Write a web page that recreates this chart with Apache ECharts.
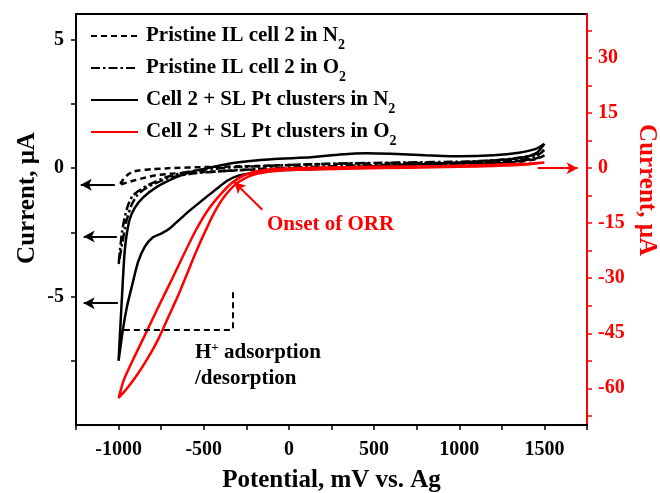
<!DOCTYPE html>
<html>
<head>
<meta charset="utf-8">
<script src="https://cdn.jsdelivr.net/npm/echarts@6.0.0/dist/echarts.min.js"></script>
<style>
html, body { margin: 0; padding: 0; background: #fff; }
#chart { width: 660px; height: 493px; }
</style>
</head>
<body>
<div id="chart"></div>
<script>
// axis ticks and labels
var potentialTicks = [-1250, -1000, -750, -500, -250, 0, 250, 500, 750, 1000, 1250, 1500, 1750];
var potentialLabels = [-1000, -500, 0, 500, 1000, 1500];
var leftTicks = [-7.5, -5, -2.5, 0, 2.5, 5];
var leftLabels = [-5, 0, 5];
var rightTicks = [-67.5, -60, -52.5, -45, -37.5, -30, -22.5, -15, -7.5, 0, 7.5, 15, 22.5, 30, 37.5];
var rightLabels = [-60, -45, -30, -15, 0, 15, 30];

var seriesNames = [
    'Pristine IL cell 2 in N2',
    'Pristine IL cell 2 in O2',
    'Cell 2 + SL Pt clusters in N2',
    'Cell 2 + SL Pt clusters in O2'
];

// [potential mV, current uA] - CV loops, left axis
var pristineN2 = [
    [1500, 0.5], [1450, 0.35], [1350, 0.25], [1200, 0.18], [1000, 0.14], [700, 0.1], [400, 0.05],
    [100, 0.0], [-200, -0.05], [-400, -0.12], [-600, -0.18], [-700, -0.22], [-780, -0.28],
    [-850, -0.38], [-920, -0.5], [-970, -0.6], [-1000, -0.65],
    [-990, -0.6], [-970, -0.42], [-945, -0.25], [-920, -0.15], [-880, -0.09], [-800, -0.04],
    [-700, 0.0], [-500, 0.04], [-200, 0.08], [100, 0.14], [400, 0.18], [700, 0.2], [1000, 0.2],
    [1200, 0.22], [1350, 0.28], [1450, 0.38], [1500, 0.5]
];
var pristineO2 = [
    [1500, 0.7], [1450, 0.45], [1350, 0.3], [1200, 0.22], [1000, 0.18], [700, 0.14], [400, 0.1],
    [100, 0.04], [-200, -0.04], [-400, -0.12], [-550, -0.2], [-650, -0.3], [-720, -0.42],
    [-780, -0.58], [-840, -0.78], [-890, -1.05], [-925, -1.45], [-955, -2.1], [-978, -2.9],
    [-1000, -3.75],
    [-992, -3.2], [-980, -2.5], [-965, -1.95], [-945, -1.45], [-920, -1.1], [-886, -0.9],
    [-833, -0.68], [-775, -0.5], [-716, -0.34], [-622, -0.18], [-500, -0.06], [-300, 0.04],
    [0, 0.12], [300, 0.18], [700, 0.22], [1000, 0.25], [1200, 0.3], [1350, 0.4], [1450, 0.55],
    [1500, 0.7]
];
var cellN2 = [
    [1500, 0.95], [1460, 0.62], [1400, 0.45], [1300, 0.35], [1150, 0.28], [1000, 0.22], [700, 0.12],
    [400, 0.04], [100, -0.05], [-100, -0.1], [-220, -0.2], [-300, -0.3], [-360, -0.48],
    [-420, -0.78], [-480, -1.1], [-540, -1.42], [-600, -1.75], [-650, -2.05], [-700, -2.35],
    [-750, -2.55], [-800, -2.7], [-845, -3.05], [-886, -3.66], [-922, -4.6], [-951, -5.4],
    [-975, -6.3], [-1000, -7.5],
    [-993, -6.6], [-985, -5.6], [-976, -4.5], [-966, -3.4], [-955, -2.7], [-935, -2.0],
    [-905, -1.55], [-857, -1.15], [-775, -0.73], [-657, -0.34], [-560, -0.12], [-463, 0.02],
    [-330, 0.2], [-100, 0.35], [130, 0.42], [300, 0.53], [450, 0.58], [600, 0.56], [800, 0.5],
    [1000, 0.46], [1200, 0.5], [1350, 0.6], [1450, 0.75], [1500, 0.95]
];
// right axis
var cellO2 = [
    [1500, 1.5], [1400, 1.0], [1200, 0.6], [1000, 0.35], [700, 0.1], [400, -0.1], [8, -0.5],
    [-122, -1.0], [-228, -2.1], [-310, -4.3], [-381, -7.9], [-439, -12.2], [-492, -17.3],
    [-545, -22.8], [-598, -28.8], [-651, -34.8], [-710, -40.8], [-769, -46.8], [-834, -52.2],
    [-898, -56.8], [-957, -60.4], [-1000, -62.6],
    [-969, -57.7], [-910, -51.7], [-839, -44.9], [-763, -37.5], [-686, -30.2], [-616, -23.4],
    [-545, -16.8], [-475, -11.4], [-404, -7.3], [-334, -4.0], [-257, -1.8], [-169, -0.7],
    [-51, -0.2], [200, 0.15], [500, 0.35], [900, 0.6], [1200, 0.9], [1400, 1.2], [1500, 1.5]
];

// annotation arrows, in left-axis units
var leftArrows = [
    [[-1022, -0.65], [-1222, -0.65]],
    [[-1010, -2.66], [-1205, -2.66]],
    [[-1004, -5.26], [-1205, -5.26]]
];
var orrArrow = [[-156, -1.62], [-320, -0.55]];
var rightArrow = [[1460, 0], [1695, 0]];
var hBracket = [
    [[-969, -6.29], [-328, -6.29]],
    [[-328, -4.83], [-328, -6.29]]
];

var serif = 'Liberation Serif';
var chart = echarts.init(document.getElementById('chart'));

function lineSeries(name, data, color, type, axis) {
    return {
        name: name,
        type: 'line',
        data: data,
        yAxisIndex: axis,
        symbol: 'none',
        smooth: 0.2,
        lineStyle: { color: color, width: 2.5, type: type },
        itemStyle: { color: color },
        emphasis: { disabled: true }
    };
}

function arrowLine(seg, color, arrow, dash) {
    return [
        { coord: seg[0], symbol: 'none' },
        {
            coord: seg[1],
            symbol: arrow ? 'arrow' : 'none',
            symbolSize: [9, 11],
            lineStyle: { color: color, width: 2, type: dash || 'solid' }
        }
    ];
}

var marks = [];
leftArrows.forEach(function (s) { marks.push(arrowLine(s, '#000', true)); });
marks.push(arrowLine(orrArrow, '#ff0000', true));
marks.push(arrowLine(rightArrow, '#ff0000', true));
hBracket.forEach(function (s) { marks.push(arrowLine(s, '#000', false, [6, 4])); });

var series = [
    lineSeries(seriesNames[0], pristineN2, '#000', [6, 4], 0),
    lineSeries(seriesNames[1], pristineO2, '#000', [9, 3, 2.5, 3], 0),
    lineSeries(seriesNames[2], cellN2, '#000', 'solid', 0),
    lineSeries(seriesNames[3], cellO2, '#ff0000', 'solid', 1),
    {
        name: 'annotations',
        type: 'line',
        data: [],
        yAxisIndex: 0,
        symbol: 'none',
        markLine: {
            silent: true,
            animation: false,
            label: { show: false },
            emphasis: { disabled: true },
            data: marks
        }
    }
];

var axisText = { fontFamily: serif, fontWeight: 'bold', fontSize: 20 };
function plain(v) { return String(v); }

chart.setOption({
    animation: false,
    backgroundColor: '#fff',
    grid: {
        left: 76, right: 73, top: 14, bottom: 68,
        outerBoundsMode: 'none',
        show: true, borderColor: '#000', borderWidth: 2
    },
    legend: {
        data: seriesNames,
        orient: 'vertical',
        left: 85,
        top: 15,
        itemWidth: 47,
        itemHeight: 14,
        itemGap: 0,
        selectedMode: false,
        itemStyle: { opacity: 0 },
        formatter: function (name) {
            return name.replace(/([NO])2$/, '$1{s|2}');
        },
        textStyle: {
            fontFamily: serif, fontWeight: 'bold', fontSize: 21, color: '#000',
            lineHeight: 32, padding: [0, 0, 0, 3],
            rich: {
                s: { fontFamily: serif, fontWeight: 'bold', fontSize: 14, color: '#000',
                     verticalAlign: 'bottom', lineHeight: 16 }
            }
        }
    },
    xAxis: {
        type: 'value',
        min: -1250,
        max: 1750,
        name: 'Potential, mV vs. Ag',
        nameLocation: 'middle',
        nameGap: 43,
        nameTextStyle: { fontFamily: serif, fontWeight: 'bold', fontSize: 25, color: '#000' },
        axisLine: { onZero: false, lineStyle: { color: '#000', width: 2 } },
        axisTick: { customValues: potentialTicks, length: 5, lineStyle: { color: '#000', width: 1.5 } },
        axisLabel: Object.assign({ customValues: potentialLabels, formatter: plain, color: '#000', margin: 15 }, axisText),
        splitLine: { show: false }
    },
    yAxis: [
        {
            type: 'value',
            min: -10,
            max: 6,
            position: 'left',
            axisLine: { show: true, onZero: false, lineStyle: { color: '#000', width: 2 } },
            axisTick: { customValues: leftTicks, length: 5, lineStyle: { color: '#000', width: 1.5 } },
            axisLabel: Object.assign({ customValues: leftLabels, formatter: plain, color: '#000', margin: 12 }, axisText),
            splitLine: { show: false }
        },
        {
            type: 'value',
            min: -70,
            max: 42,
            position: 'right',
            axisLine: { show: true, onZero: false, lineStyle: { color: '#ff0000', width: 2 } },
            axisTick: { customValues: rightTicks, length: 5, lineStyle: { color: '#ff0000', width: 1.5 } },
            axisLabel: Object.assign({ customValues: rightLabels, formatter: plain, color: '#ff0000', margin: 11 }, axisText),
            splitLine: { show: false }
        }
    ],
    graphic: [
        {
            type: 'text', x: 28, y: 198, rotation: Math.PI / 2,
            style: { text: 'Current, μA', fill: '#000', font: 'bold 25px "Liberation Serif"',
                     align: 'center', verticalAlign: 'middle' }
        },
        {
            type: 'text', x: 646, y: 190, rotation: -Math.PI / 2,
            style: { text: 'Current, μA', fill: '#ff0000', font: 'bold 25px "Liberation Serif"',
                     align: 'center', verticalAlign: 'middle' }
        },
        {
            type: 'text', x: 267, y: 225,
            style: { text: 'Onset of ORR', fill: '#ff0000', font: 'bold 21px "Liberation Serif"',
                     align: 'left', verticalAlign: 'middle' }
        },
        {
            type: 'text', x: 195, y: 353,
            style: {
                text: '{b|H}{p|+}{b| adsorption}',
                align: 'left', verticalAlign: 'middle',
                rich: {
                    b: { fontFamily: serif, fontWeight: 'bold', fontSize: 21, fill: '#000', lineHeight: 24 },
                    p: { fontFamily: serif, fontWeight: 'bold', fontSize: 13, fill: '#000',
                         verticalAlign: 'top', lineHeight: 14 }
                }
            }
        },
        {
            type: 'text', x: 195, y: 379,
            style: { text: '/desorption', fill: '#000', font: 'bold 21px "Liberation Serif"',
                     align: 'left', verticalAlign: 'middle' }
        }
    ],
    series: series
});
</script>
</body>
</html>
